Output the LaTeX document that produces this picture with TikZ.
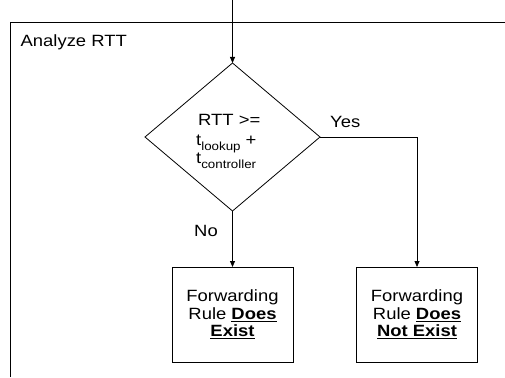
\documentclass[tikz,border=0pt]{standalone}
\usepackage{fontspec}
\setmainfont{Liberation Sans}[FakeStretch=1.13]
\usetikzlibrary{shapes.geometric,arrows.meta}
\tikzset{
  line/.style={draw=black, line width=0.8pt},
  arr/.style={line, -{Triangle[length=6pt,width=5pt]}},
  box/.style={line, rectangle, minimum width=121pt, minimum height=95pt, inner sep=0pt, outer sep=0pt, align=center,
    font=\fontsize{16.3}{17.5}\selectfont},
  dec/.style={line, diamond, minimum width=175pt, minimum height=148pt, inner sep=0pt, outer sep=0pt},
  lbl/.style={inner sep=0pt, anchor=base west, font=\fontsize{16.3}{17.5}\selectfont},
}
\newcommand{\subtxt}[1]{\raisebox{-5.5pt}{\fontsize{11.8}{12}\selectfont #1}}
\begin{document}
\begin{tikzpicture}[x=1pt,y=-1pt]
\useasboundingbox (0,0) rectangle (505,377);
% frame
\coordinate (fbl) at (10,377);
\coordinate (ftl) at (10,22);
\coordinate (ftr) at (505,22);
\draw[line] (fbl) -- (ftl) -- (ftr);
\node[lbl] (title) at (20.5,47) {Analyze RTT};
% diamond
\node[dec] (d) at (232.5,137) {};
\node[lbl] (c1) at (198,125) {RTT >=};
\node[lbl] (c2) at (196,145) {t\subtxt{lookup} +};
\node[lbl] (c3) at (196,163) {t\subtxt{controller}};
% boxes
\node[box] (b1) at (232.5,314.5) {Forwarding\\Rule \underline{\textbf{Does}}\\\underline{\textbf{Exist}}};
\node[box] (b2) at (417,314.5) {Forwarding\\Rule \underline{\textbf{Does}}\\\underline{\textbf{Not Exist}}};
% connectors
\coordinate (start) at (232.5,0);
\draw[arr] (start) -- (d.north);
\draw[arr] (d.south) -- (b1.north);
\draw[arr] (d.east) -| (b2.north);
\node[lbl] (yes) at (330,127) {Yes};
\node[lbl] (no) at (194,236) {No};
\end{tikzpicture}
\end{document}
